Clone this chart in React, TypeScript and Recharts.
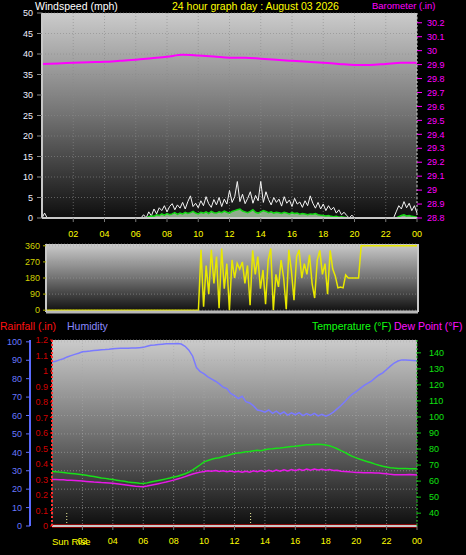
import React from "react"
import { ComposedChart, Line, Area, XAxis, YAxis, CartesianGrid, ReferenceLine } from "recharts"

// time axis (hours of day)
const TIME_TICKS = [2, 4, 6, 8, 10, 12, 14, 16, 18, 20, 22, 24]
const WIND_STEP_MIN = 10
const WEATHER_STEP_MIN = 15

// wind gust (mph), 10 min steps, one row = 2 hours
const GUST_MPH = [
  0, 1.2, 0, 0, 0, 0, 0, 0, 0, 0, 0, 0,
  0, 0, 0, 0, 0, 0, 0, 0, 0, 0, 0, 0,
  0, 0, 0, 0, 0, 0, 0, 0, 0, 0, 0, 0,
  0, 0, 0, 0.8, 0, 1.5, 0.5, 2.2, 1.0, 2.5, 1.8, 3.0,
  1.5, 2.8, 3.5, 2.0, 3.2, 2.4, 3.8, 2.2, 4.0, 5.4, 2.8, 3.6,
  2.5, 4.2, 3.0, 5.2, 3.5, 2.6, 4.5, 3.2, 5.0, 2.8, 4.6, 3.4,
  6.7, 3.8, 5.2, 8.9, 4.0, 5.8, 3.5, 4.8, 6.4, 3.6, 5.5, 4.2,
  8.9, 3.8, 6.4, 4.5, 3.2, 5.0, 3.8, 4.6, 2.9, 5.2, 3.6, 4.4,
  2.8, 4.8, 3.4, 3.9, 2.6, 4.2, 3.0, 5.4, 3.6, 2.4, 3.8, 2.2,
  3.4, 1.8, 3.0, 2.0, 2.6, 1.2, 2.0, 0.8, 1.4, 0.6, 0, 0.7,
  0, 0, 0, 0, 0, 0, 0, 0, 0, 0, 0, 0,
  0, 0, 0, 0, 1.5, 3.0, 2.2, 4.0, 2.5, 3.6, 1.8, 3.0,
  1.2,
]

// average wind speed (mph)
const AVG_MPH = [
  0, 0, 0, 0, 0, 0, 0, 0, 0, 0, 0, 0,
  0, 0, 0, 0, 0, 0, 0, 0, 0, 0, 0, 0,
  0, 0, 0, 0, 0, 0, 0, 0, 0, 0, 0, 0,
  0, 0, 0, 0, 0, 0.3, 0.5, 0.4, 0.8, 0.6, 1.0, 0.7,
  1.1, 0.8, 1.0, 1.3, 0.9, 1.2, 1.0, 1.4, 1.1, 1.3, 1.6, 1.2,
  1.0, 1.4, 1.2, 1.5, 1.1, 1.6, 1.3, 1.2, 1.5, 1.3, 1.7, 1.4,
  1.2, 1.6, 1.8, 2.0, 2.2, 1.7, 1.5, 1.3, 1.6, 2.0, 1.4, 1.2,
  1.5, 1.8, 1.6, 1.3, 1.5, 1.2, 1.4, 1.3, 1.1, 1.4, 1.2, 1.0,
  1.3, 1.1, 1.2, 0.9, 1.1, 1.0, 0.8, 1.0, 0.9, 1.1, 0.8, 0.7,
  0.6, 0.5, 0.6, 0.4, 0.3, 0.4, 0.2, 0.3, 0.2, 0.1, 0, 0,
  0, 0, 0, 0, 0, 0, 0, 0, 0, 0, 0, 0,
  0, 0, 0, 0, 0, 0.3, 0.6, 0.8, 0.5, 0.6, 0.4, 0.3,
  0.2,
]

// wind direction (degrees)
const WIND_DIR = [
  0, 0, 0, 0, 0, 0, 0, 0, 0, 0, 0, 0,
  0, 0, 0, 0, 0, 0, 0, 0, 0, 0, 0, 0,
  0, 0, 0, 0, 0, 0, 0, 0, 0, 0, 0, 0,
  0, 0, 0, 0, 0, 0, 0, 0, 0, 0, 0, 0,
  0, 0, 0, 0, 0, 0, 0, 0, 0, 0, 0, 0,
  337, 20, 250, 90, 337, 150, 300, 11, 345, 120, 260, 0,
  281, 180, 262, 230, 270, 150, 250, 28, 334, 200, 300, 120,
  225, 34, 280, 345, 0, 200, 130, 280, 180, 6, 337, 220,
  56, 300, 337, 180, 260, 200, 310, 150, 68, 280, 334, 200,
  260, 90, 334, 230, 190, 125, 130, 125, 197, 180, 180, 180,
  180, 180, 360, 360, 360, 360, 360, 360, 360, 360, 360, 360,
  360, 360, 360, 360, 360, 360, 360, 360, 360, 360, 360, 360,
  360,
]

// barometer (in), hourly
const BARO_IN = [
  29.905, 29.908, 29.913, 29.917, 29.92, 29.927, 29.934, 29.945, 29.956, 29.97,
  29.965, 29.958, 29.949, 29.949, 29.942, 29.934, 29.927, 29.92, 29.913, 29.905,
  29.898, 29.898, 29.905, 29.913, 29.913,
]

// humidity (%), 15 min steps, one row = 4 hours
const HUMIDITY = [
  89.0, 89.5, 90.2, 90.8, 91.8, 92.5, 93.2, 93.8, 94.6, 94.8, 95.0, 95.3, 95.5, 95.7, 95.8, 96.0,
  96.3, 96.4, 96.5, 96.5, 96.5, 96.6, 96.6, 96.8, 97.0, 97.6, 98.2, 98.3, 98.5, 98.7, 98.9, 99.0,
  99.0, 99.1, 98.8, 97.6, 95.5, 92.2, 86.0, 83.8, 82.6, 81.0, 79.8, 78.6, 77.2, 75.4, 74.6, 72.0,
  70.8, 69.2, 70.4, 67.5, 66.8, 65.2, 63.0, 62.6, 61.8, 63.0, 61.2, 62.4, 60.8, 61.9, 60.2, 61.5,
  60.4, 61.6, 59.9, 61.0, 60.1, 61.2, 59.8, 60.6, 59.6, 60.5, 61.8, 63.6, 65.4, 67.5, 69.8, 71.6,
  73.0, 74.6, 76.2, 77.5, 78.6, 80.4, 82.0, 83.2, 85.0, 86.8, 88.5, 89.6, 90.2, 90.1, 90.0, 89.9,
  89.8,
]

// temperature (F)
const TEMP_F = [
  66.0, 65.8, 65.6, 65.3, 65.0, 64.8, 64.6, 64.3, 64.0, 63.6, 63.2, 62.8, 62.4, 62.0, 61.7, 61.3,
  61.0, 60.6, 60.2, 59.9, 59.5, 59.2, 58.9, 58.6, 58.5, 58.9, 59.4, 59.9, 60.4, 60.9, 61.4, 61.9,
  62.5, 63.0, 63.8, 64.6, 65.6, 67.0, 68.6, 70.2, 72.0, 72.8, 73.6, 74.2, 74.6, 75.3, 75.8, 76.6,
  77.2, 77.6, 77.9, 78.3, 78.4, 78.9, 79.2, 79.0, 79.6, 80.0, 80.2, 80.5, 80.6, 80.9, 81.3, 81.6,
  81.8, 82.1, 82.4, 82.6, 82.7, 82.9, 83.0, 82.8, 82.5, 82.0, 81.2, 80.2, 79.0, 77.9, 76.6, 75.4,
  74.5, 73.6, 72.8, 72.1, 71.4, 70.6, 69.9, 69.3, 68.8, 68.4, 68.1, 67.9, 67.8, 67.8, 67.7, 67.7,
  67.7,
]

// dew point (F)
const DEW_F = [
  61.0, 61.0, 60.9, 60.8, 60.6, 60.5, 60.4, 60.2, 60.0, 59.8, 59.6, 59.4, 59.3, 59.1, 59.0, 58.8,
  58.6, 58.3, 58.0, 57.7, 57.4, 57.1, 56.8, 56.6, 56.5, 56.9, 57.4, 57.9, 58.4, 58.9, 59.4, 60.0,
  60.6, 61.3, 62.0, 62.8, 63.6, 64.4, 65.0, 65.6, 66.0, 66.5, 66.2, 66.6, 66.0, 66.4, 65.8, 66.3,
  65.7, 66.2, 65.5, 66.1, 65.6, 66.4, 65.8, 66.6, 65.9, 66.8, 66.0, 66.9, 66.2, 67.0, 66.3, 67.2,
  66.5, 67.4, 66.6, 67.5, 66.8, 67.6, 66.9, 67.4, 66.8, 67.2, 66.6, 66.8, 66.2, 66.0, 65.8, 65.6,
  65.4, 65.4, 65.2, 65.2, 65.2, 65.0, 65.0, 64.8, 64.6, 64.2, 64.0, 63.9, 63.9, 64.0, 64.1, 64.0,
  63.8,
]

// rainfall (in), hourly
const RAIN_IN = [0, 0, 0, 0, 0, 0, 0, 0, 0, 0, 0, 0, 0, 0, 0, 0, 0, 0, 0, 0, 0, 0, 0, 0, 0]

// sun rise / sun set markers (hour)
const SUN_MARKS = [0.97, 13.06]

const WS_TICKS = [0, 5, 10, 15, 20, 25, 30, 35, 40, 45, 50]
const BARO_TICKS = [28.8, 28.9, 29, 29.1, 29.2, 29.3, 29.4, 29.5, 29.6, 29.7, 29.8, 29.9, 30, 30.1, 30.2]
const DIR_TICKS = [0, 90, 180, 270, 360]
const DIR_NAMES = ["N", "E", "S", "W", "N"]
const HUM_TICKS = [0, 10, 20, 30, 40, 50, 60, 70, 80, 90, 100]
const RAIN_TICKS = [0, 0.1, 0.2, 0.3, 0.4, 0.5, 0.6, 0.7, 0.8, 0.9, 1, 1.1, 1.2]
const TEMP_TICKS = [40, 50, 60, 70, 80, 90, 100, 110, 120, 130, 140]

const windRows = GUST_MPH.map((g, i) => ({
  h: (i * WIND_STEP_MIN) / 60,
  gust: g,
  avg: AVG_MPH[i],
  dir: WIND_DIR[i],
}))
const baroRows = BARO_IN.map((b, i) => ({ h: i, baro: b }))
const weatherRows = HUMIDITY.map((hum, i) => ({
  h: (i * WEATHER_STEP_MIN) / 60,
  hum,
  temp: TEMP_F[i],
  dew: DEW_F[i],
}))
const rainRows = RAIN_IN.map((r, i) => ({ h: i, rain: r }))

const FONT = "'Liberation Sans', Arial, sans-serif"
const timeLabel = (h: number) => String(h % 24).padStart(2, "0")
const dec1 = (v: number) => String(Math.round(v * 10) / 10)
const tickFont = (fill: string, size = 9) => ({ fill, fontSize: size, fontFamily: FONT })

const Bg = ({ id }: { id: string }) => (
  <defs>
    <linearGradient id={id} x1="0" y1="0" x2="0" y2="1">
      <stop offset="0%" stopColor="#cbcbcb" />
      <stop offset="50%" stopColor="#727272" />
      <stop offset="100%" stopColor="#0e0e0e" />
    </linearGradient>
  </defs>
)

const label = (text: string, left: number, top: number, color: string, size = 10.5) => (
  <div style={{ position: "absolute", left, top, color, fontSize: size, fontFamily: FONT, whiteSpace: "nowrap", lineHeight: 1 }}>
    {text}
  </div>
)

export default function App() {
  return (
    <div style={{ position: "fixed", left: 0, top: 0, width: 466, height: 555, background: "#000", overflow: "hidden" }}>
      {/* wind speed + barometer */}
      <div style={{ position: "absolute", left: 0, top: 0 }}>
        <ComposedChart width={466} height={245} data={windRows} margin={{ top: 13, right: 0, bottom: 0, left: 0 }}>
          <Bg id="bgTop" />
          <CartesianGrid yAxisId="ws" fill="url(#bgTop)" stroke="#8a8a8a" strokeOpacity={0.6} strokeDasharray="1 2" />
          <XAxis
            dataKey="h"
            type="number"
            domain={[0, 24]}
            ticks={TIME_TICKS}
            tickFormatter={timeLabel}
            interval={0}
            height={27}
            tick={tickFont("#ffff00")}
            tickSize={4}
            tickMargin={9}
            tickLine={{ stroke: "#777" }}
            axisLine={{ stroke: "#c8c8c8", strokeWidth: 2 }}
          />
          <YAxis
            yAxisId="ws"
            width={42}
            domain={[0, 50]}
            ticks={WS_TICKS}
            interval={0}
            tick={tickFont("#f0f0ff")}
            tickSize={5}
            tickMargin={4}
            tickLine={{ stroke: "#888" }}
            axisLine={{ stroke: "#c8c8c8", strokeWidth: 2 }}
          />
          <YAxis
            yAxisId="baro"
            orientation="right"
            width={49}
            domain={[28.8, 30.27]}
            allowDataOverflow
            ticks={BARO_TICKS}
            interval={0}
            tickFormatter={dec1}
            tick={tickFont("#ff00ff")}
            tickSize={5}
            tickMargin={5}
            tickLine={{ stroke: "#ff00ff" }}
            axisLine={{ stroke: "#c8c8c8", strokeDasharray: "2 2" }}
          />
          <Area yAxisId="ws" dataKey="avg" type="linear" stroke="none" fill="#c4eec0" fillOpacity={0.7} isAnimationActive={false} />
          <Line yAxisId="ws" dataKey="gust" type="linear" stroke="#f4f4f4" strokeWidth={1} dot={false} isAnimationActive={false} />
          <ReferenceLine yAxisId="ws" y={0} stroke="#a8e4a0" strokeWidth={2} />
          <Line yAxisId="ws" dataKey="avg" type="linear" stroke="#16d816" strokeWidth={1.5} dot={false} isAnimationActive={false} />
          <Line yAxisId="baro" data={baroRows} dataKey="baro" type="monotone" stroke="#ff00ff" strokeWidth={2} dot={false} isAnimationActive={false} />
        </ComposedChart>
      </div>

      {/* wind direction */}
      <div style={{ position: "absolute", left: 0, top: 236 }}>
        <ComposedChart width={466} height={80} data={windRows} margin={{ top: 8, right: 0, bottom: 0, left: 0 }}>
          <Bg id="bgMid" />
          <CartesianGrid yAxisId="dir" fill="url(#bgMid)" stroke="#9a9a9a" strokeOpacity={0.6} strokeDasharray="1 2" />
          <XAxis
            dataKey="h"
            type="number"
            domain={[0, 24]}
            ticks={TIME_TICKS}
            height={4}
            tick={false}
            tickLine={false}
            axisLine={{ stroke: "#b8b8b8", strokeWidth: 3 }}
          />
          <YAxis
            yAxisId="dir"
            width={46}
            domain={[-10, 370]}
            ticks={DIR_TICKS}
            interval={0}
            tick={tickFont("#d0d000")}
            tickSize={3}
            tickMargin={3}
            tickLine={{ stroke: "#b0b000" }}
            axisLine={{ stroke: "#c8c8c8", strokeWidth: 2 }}
          />
          <YAxis
            yAxisId="dirName"
            orientation="right"
            width={48}
            domain={[-10, 370]}
            ticks={DIR_TICKS}
            interval={0}
            tickFormatter={(v: number) => DIR_NAMES[DIR_TICKS.indexOf(v)]}
            tick={tickFont("#ffff00", 13)}
            tickSize={0}
            tickMargin={17}
            tickLine={false}
            axisLine={{ stroke: "#c8c8c8", strokeWidth: 2 }}
          />
          <Line yAxisId="dir" dataKey="dir" type="linear" stroke="#e8e800" strokeWidth={1.5} dot={false} isAnimationActive={false} />
        </ComposedChart>
      </div>

      {/* legend row */}
      {label("Rainfall (.in)", 0, 321, "#ff1010")}
      {label("Humidity", 67, 321, "#8a8aff")}
      {label("Temperature (°F)", 312, 321, "#10ff10")}
      {label("Dew Point (°F)", 394, 321, "#ff10ff")}

      {/* rain, humidity, temperature, dew point */}
      <div style={{ position: "absolute", left: 0, top: 330 }}>
        <ComposedChart width={466} height={225} data={weatherRows} margin={{ top: 10, right: 0, bottom: 0, left: 0 }}>
          <Bg id="bgBot" />
          <CartesianGrid yAxisId="bHum" fill="url(#bgBot)" stroke="#a8a8a8" strokeOpacity={0.6} strokeDasharray="1 2" />
          <XAxis
            dataKey="h"
            type="number"
            domain={[0, 24]}
            ticks={TIME_TICKS}
            tickFormatter={timeLabel}
            interval={0}
            height={29}
            tick={tickFont("#ffff00")}
            tickSize={4}
            tickMargin={8}
            tickLine={{ stroke: "#777" }}
            axisLine={{ stroke: "#c8c8c8", strokeWidth: 2 }}
          />
          <YAxis
            yAxisId="aRain"
            width={22}
            domain={[0, 1.2]}
            ticks={RAIN_TICKS}
            interval={0}
            tickFormatter={dec1}
            tick={tickFont("#d00000")}
            tickSize={2}
            tickMargin={2}
            tickLine={{ stroke: "#ff0000" }}
            axisLine={{ stroke: "#ff3030", strokeWidth: 2, strokeDasharray: "2 2" }}
          />
          <YAxis
            yAxisId="bHum"
            width={30}
            domain={[0, 101]}
            ticks={HUM_TICKS}
            interval={0}
            tick={tickFont("#6878ff")}
            tickSize={4}
            tickMargin={4}
            tickLine={{ stroke: "#6070ff" }}
            axisLine={{ stroke: "#5a6aff", strokeWidth: 2 }}
          />
          <YAxis
            yAxisId="temp"
            orientation="right"
            width={49}
            domain={[32, 148]}
            ticks={TEMP_TICKS}
            interval={0}
            tick={tickFont("#10e010")}
            tickSize={4}
            tickMargin={8}
            tickLine={{ stroke: "#10c010" }}
            axisLine={{ stroke: "#10c010", strokeDasharray: "2 2" }}
          />
          {SUN_MARKS.map((s) => (
            <ReferenceLine
              key={s}
              yAxisId="temp"
              segment={[{ x: s, y: 32 }, { x: s, y: 41 }]}
              stroke="#f0f0a0"
              strokeDasharray="1 2"
            />
          ))}
          <Line yAxisId="bHum" dataKey="hum" type="linear" stroke="#7a7aff" strokeWidth={1.5} dot={false} isAnimationActive={false} />
          <Line yAxisId="temp" dataKey="temp" type="linear" stroke="#18e018" strokeWidth={1.5} dot={false} isAnimationActive={false} />
          <Line yAxisId="temp" dataKey="dew" type="linear" stroke="#e818e8" strokeWidth={1.5} dot={false} isAnimationActive={false} />
          <Line yAxisId="aRain" data={rainRows} dataKey="rain" type="linear" stroke="#ff0000" strokeWidth={3} dot={false} isAnimationActive={false} />
        </ComposedChart>
      </div>
      {label("Sun Rise", 52, 537, "#ffff00", 9.5)}

      {/* header */}
      {label("Windspeed (mph)", 35, 1, "#ffffff")}
      {label("24 hour graph day : August 03 2026", 172, 1, "#ffff00")}
      {label("Barometer (.in)", 372, 1, "#ff00ff", 9.5)}
    </div>
  )
}
